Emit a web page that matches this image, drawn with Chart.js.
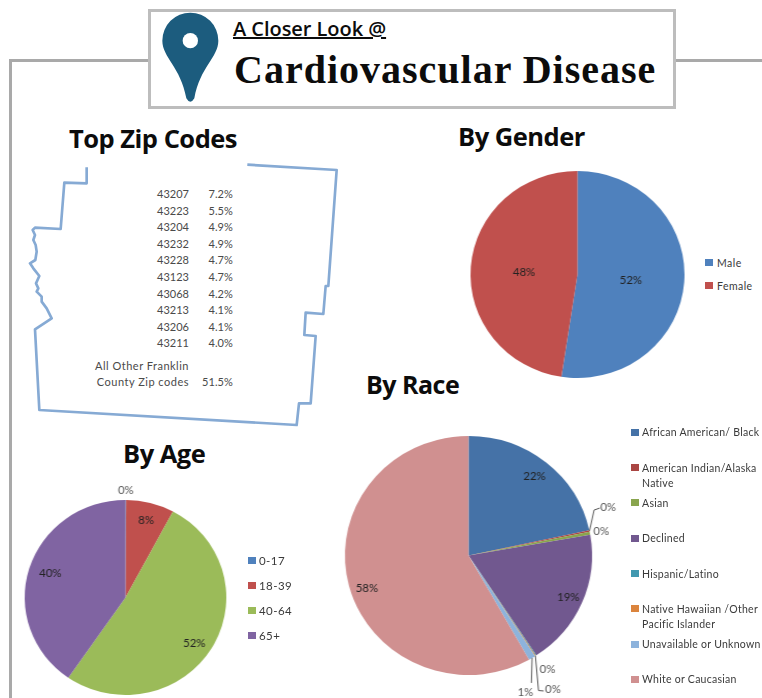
<!DOCTYPE html>
<html><head><meta charset="utf-8">
<script src="https://cdn.jsdelivr.net/npm/chart.js@4"></script>
<style>
html,body{margin:0;padding:0;background:#fff}
#page{position:relative;width:762px;height:698px;overflow:hidden;background:#fff;font-family:Lato,"Open Sans",sans-serif;color:#333;filter:blur(.3px)}
.abs{position:absolute;white-space:pre}
.rule{position:absolute;background:#a9a9a9}
#titlebox{position:absolute;left:148px;top:9px;width:522px;height:94px;border:3px solid #bdbdbd;background:#fff}
.head{position:absolute;font-family:"Open Sans",sans-serif;font-weight:700;color:#0c0c0c;white-space:pre;line-height:1}
.zip{position:absolute;font-size:11px;line-height:14px;color:#4a4a4a;text-align:right;white-space:pre}
.swatch{position:absolute;width:8px;height:7px}
.wrap{position:absolute;transform:scaleX(1.034);transform-origin:50% 50%}
.leg{position:absolute;white-space:pre;color:#3a3a3a}
</style></head><body>
<div id="page">
  <div class="rule" style="left:9px;top:59px;width:140px;height:3px"></div>
  <div class="rule" style="left:9px;top:59px;width:3px;height:640px"></div>
  <div class="rule" style="left:675px;top:59px;width:87px;height:3px"></div>
  <div id="titlebox"></div>
  <svg class="abs" style="left:0;top:0" width="380" height="220" viewBox="0 0 1140 660">
    <path fill="#1c5c7e" d="M571 38A84 84 0 0 1 655 122C655 172 600 200 583 295Q571 316 559 295C542 200 487 172 487 122A84 84 0 0 1 571 38Z"/>
    <circle cx="571" cy="122" r="23" fill="#fff"/>
  </svg>
  <div class="head" style="left:233px;top:19px;font-size:20px;font-family:'Open Sans',sans-serif;font-weight:600;text-decoration:underline;letter-spacing:-.05px">A Closer Look @</div>
  <div class="head" style="left:234px;top:50px;font-size:40px;font-family:'Liberation Serif',serif;letter-spacing:1px">Cardiovascular Disease</div>
  <div class="head" style="left:69px;top:126px;font-size:25.5px;letter-spacing:-.5px">Top Zip Codes</div>
  <div class="head" style="left:458px;top:124px;font-size:25.5px;letter-spacing:-.5px">By Gender</div>
  <div class="head" style="left:366px;top:372px;font-size:25px;letter-spacing:-.5px">By Race</div>
  <div class="head" style="left:123px;top:441px;font-size:25.5px;letter-spacing:-.5px">By Age</div>
  <svg class="abs" style="left:20px;top:160px" width="330" height="270" viewBox="0 0 990 810">
    <polyline fill="none" stroke="#86aad4" stroke-width="8" stroke-linejoin="round" points="200,22 200,70 133,68 122,207 45,203 38,210 45,225 40,240 47,255 50,275 46,300 30,310 40,325 58,348 48,370 55,385 50,395 65,410 65,425 80,445 95,475 45,508 58,750 830,795 837,730 872,730 887,528 853,525 857,458 910,462 917,378 925,378 950,30 682,14"/>
  </svg>
  <div id="zips"></div>
  <div class="wrap" id="wGender"><canvas id="cGender"></canvas></div>
  <div class="wrap" id="wAge"><canvas id="cAge"></canvas></div>
  <div class="wrap" id="wRace"><canvas id="cRace"></canvas></div>
  <div id="legends"></div>
</div>
<script>
// ---- data ----
const zipCodes = ["43207","43223","43204","43232","43228","43123","43068","43213","43206","43211"];
const zipShares = ["7.2%","5.5%","4.9%","4.9%","4.7%","4.7%","4.2%","4.1%","4.1%","4.0%"];
const otherZipLabel = ["All Other Franklin","County Zip codes"];
const otherZipShare = "51.5%";

const genderLabels = ["Male","Female"];
const genderValues = [52.4,47.6];
const genderColors = ["#4f81bd","#c0504d"];

const ageLabels = ["0-17","18-39","40-64","65+"];
const ageValues = [0.1,7.7,51.8,40.4];
const ageColors = ["#4f81bd","#c0504d","#9bbb59","#8064a2"];

const raceLabels = ["African American/ Black","American Indian/Alaska\nNative","Asian","Declined","Hispanic/Latino","Native Hawaiian /Other\nPacific Islander","Unavailable or Unknown","White or Caucasian"];
const raceValues = [21.6,0.2,0.4,18.5,0.1,0.1,0.9,58.1];
const raceColors = ["#4572a7","#aa4643","#89a54e","#71588f","#4198af","#db843d","#8db3dc","#d09090"];

// ---- layout ----
function put(parent,cls,css,text){const d=document.createElement('div');d.className=cls;d.style.cssText=css;if(text!=null)d.textContent=text;parent.appendChild(d);return d;}
const zipBox=document.getElementById('zips');
zipCodes.forEach((z,i)=>{
  const y=187+i*16.6;
  put(zipBox,'zip',`right:${762-189}px;top:${y}px`,z);
  put(zipBox,'zip',`right:${762-233}px;top:${y}px;letter-spacing:.1px`,zipShares[i]);
});
otherZipLabel.forEach((t,i)=>put(zipBox,'zip',`right:${762-189}px;top:${359+i*16.4}px;letter-spacing:.5px`,t));
put(zipBox,'zip',`right:${762-233}px;top:${375.4}px;letter-spacing:.1px`,otherZipShare);

function legend(labels,colors,x,y0,step,size,sx,track,lift){
  const box=document.getElementById('legends');
  labels.forEach((t,i)=>{
    const y=y0+i*step;
    put(box,'swatch',`left:${x}px;top:${y-3.5}px;background:${colors[i]}`);
    put(box,'leg',`left:${x+sx}px;top:${y-lift}px;font-size:${size}px;line-height:15px;letter-spacing:${track}px`,t);
  });
}
legend(genderLabels,genderColors,705,262.7,23,10.5,12,.45,7);
legend(ageLabels,ageColors,248,560,25,11.5,11,.45,7.5);
legend(raceLabels,raceColors,631,432.3,35.3,10.5,11,.27,7);

const labelFont='11px Lato, "Open Sans", sans-serif';
const sliceLabels={
  id:'sliceLabels',
  afterDatasetsDraw(chart,args,opts){
    const {ctx}=chart, meta=chart.getDatasetMeta(0), vals=chart.data.datasets[0].data;
    const total=vals.reduce((a,b)=>a+b,0);
    ctx.save();ctx.font=labelFont;ctx.textAlign='center';ctx.textBaseline='middle';
    meta.data.forEach((arc,i)=>{
      const p=arc.getProps(['x','y','startAngle','endAngle','outerRadius'],true);
      const s=opts.spots[i]; const mid=(p.startAngle+p.endAngle)/2;
      const ax=p.x+Math.cos(mid)*p.outerRadius*s.f, ay=p.y+Math.sin(mid)*p.outerRadius*s.f;
      if(s.leader){
        ctx.strokeStyle='#555';ctx.lineWidth=1;ctx.beginPath();ctx.moveTo(ax,ay);
        s.leader.forEach(q=>ctx.lineTo(ax+q[0],ay+q[1]));ctx.stroke();
      }
      ctx.fillStyle=s.f>=1?'#555':'#222';
      ctx.fillText(Math.round(vals[i]/total*100)+'%',ax+(s.dx||0),ay+(s.dy||0));
    });
    ctx.restore();
  }
};
function pie(id,labels,values,colors,cx,cy,ry,pad,spots){
  const S=2*(ry+pad), w=document.getElementById('w'+id), c=document.getElementById('c'+id);
  w.style.cssText+=`left:${cx-S/2}px;top:${cy-S/2}px;width:${S}px;height:${S}px`;
  c.width=S;c.height=S;
  return new Chart(c,{type:'pie',plugins:[sliceLabels],
    data:{labels,datasets:[{data:values,backgroundColor:colors,borderWidth:0}]},
    options:{responsive:false,animation:false,layout:{padding:pad},
      plugins:{legend:{display:false},tooltip:{enabled:false},title:{display:false},sliceLabels:{spots}}}});
}
const genderSpots=[{f:.5,dy:2},{f:.5,dy:2}];
const ageSpots=[{f:1.1},{f:.83,dy:1},{f:.8,dy:5},{f:.78,dy:-1}];
const raceSpots=[{f:.85},
 {f:1,dx:18,dy:-24,leader:[[4.5,-21],[10,-23]]},
 {f:1,dx:11,dy:-2},
 {f:.88},
 {f:1,dx:11,dy:14},
 {f:1,dx:17,dy:33,leader:[[3,34.6],[8,35]]},
 {f:1,dx:-6.5,dy:35,leader:[[-.7,25]]},
 {f:.85,dy:7}];
pie('Gender',genderLabels,genderValues,genderColors,577,274,103.5,12,genderSpots);
pie('Age',ageLabels,ageValues,ageColors,125,597.5,97.5,22,ageSpots);
pie('Race',raceLabels,raceValues,raceColors,468.5,555.5,119.5,55,raceSpots);
</script>
</body></html>
